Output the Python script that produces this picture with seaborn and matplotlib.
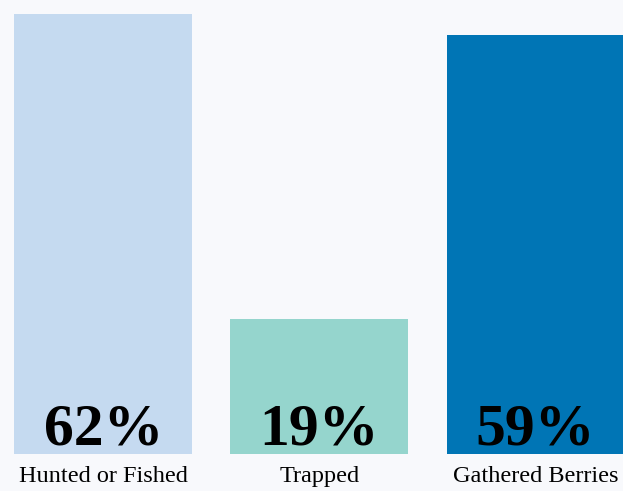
import numpy as np
import pandas as pd
import matplotlib
matplotlib.use('Agg')
import matplotlib.pyplot as plt
import seaborn as sns

categories = ['Hunted or Fished', 'Trapped', 'Gathered Berries']
percent = [62, 19, 59]
colors = ['#c5daf0', '#95d5cd', '#0075b5']

df = pd.DataFrame({'activity': categories, 'percent': percent})

sns.set_style('white')
bg = '#f8f9fc'

fig = plt.figure(figsize=(6.23, 4.91), dpi=100, facecolor=bg)
ax = fig.add_axes([0, 37 / 491, 1, 454 / 491])
ax.set_facecolor(bg)

sns.barplot(data=df, x='activity', y='percent', hue='activity', palette=colors,
            legend=False, width=0.824, saturation=1, linewidth=0, ax=ax)

ax.set_xlim(-0.479, 2.405)
ax.set_ylim(0, 64)

# big bold numbers at the foot of each bar
for i, v in enumerate(percent):
    ax.text(i, 1.3, f'{v}%', ha='center', va='baseline', fontsize=43,
            fontweight='bold', family=['Liberation Serif'], color='black')

ax.set_xticks(range(len(categories)))
ax.set_xticklabels(categories, family=['Liberation Serif'], fontsize=17.5, color='black')
ax.tick_params(axis='x', length=0, pad=8.5)
ax.set_yticks([])
ax.set_xlabel('')
ax.set_ylabel('')
sns.despine(ax=ax, left=True, bottom=True)

fig.savefig('out.png', dpi=100, facecolor=bg)
